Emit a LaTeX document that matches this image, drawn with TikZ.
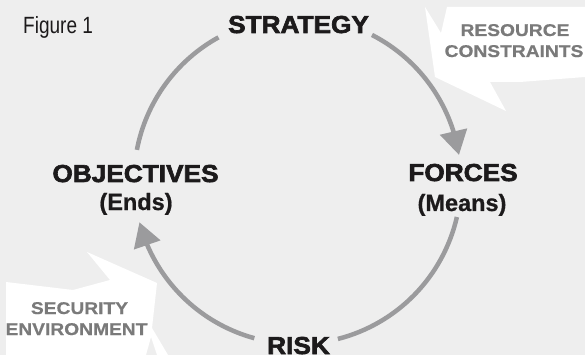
\documentclass[tikz,border=0pt]{standalone}
\usepackage{fontspec}
\setmainfont{Liberation Sans}
\newfontfamily\heavyfont{Liberation Sans Bold}[FakeBold=2.6,FakeStretch=1.07]
\newfontfamily\boldsans{Liberation Sans Bold}[FakeBold=0.8]
\newfontfamily\narrowsans{Liberation Sans}[FakeStretch=0.81]
\newfontfamily\widebold{Liberation Sans Bold}[FakeBold=0.6,FakeStretch=1.13]
\usetikzlibrary{arrows.meta,bending,calc}

\definecolor{bg}{HTML}{EEEEEE}
\definecolor{ring}{HTML}{9B9B9D}
\definecolor{ink}{HTML}{1C1A1B}
\definecolor{notegray}{HTML}{7A7A7A}

\begin{document}
\begin{tikzpicture}[x=1pt,y=-1pt,
  title/.style={font=\heavyfont\fontsize{24.5}{28}\selectfont, text=ink, inner sep=0pt, anchor=base},
  subtitle/.style={font=\boldsans\fontsize{23.5}{28}\selectfont, text=ink, inner sep=0pt, anchor=base},
  figlabel/.style={font=\narrowsans\fontsize{23.5}{28}\selectfont, text=ink, inner sep=0pt, anchor=base west},
  notetext/.style={font=\widebold\fontsize{17}{20}\selectfont, text=notegray, inner sep=0pt, anchor=base},
  callout/.style={fill=white, draw=none},
  ringline/.style={draw=ring, line width=4.5pt},
  ringarrow/.style={ringline, -{Triangle[length=24pt,width=27pt]}}
]
% background
\fill[bg] (0,0) rectangle (585,355);
\useasboundingbox (0,0) rectangle (585,355);

% callout shapes
\fill[callout] (425,7) -- (441,33) -- (447,7) -- (585,7) -- (585,77)
  -- (520,82) -- (490,82) -- (506,111) -- (435,77) -- cycle;
\fill[callout] (6,282) -- (73,290) -- (110,280) -- (87,252) -- (157,283)
  -- (152,328) -- (168,355) -- (157,355) -- (151,337) -- (146,355)
  -- (6,355) -- cycle;

% callout texts
\node[notetext] (resource) at (515,36) {RESOURCE};
\node[notetext] (constraints) at (514,57) {CONSTRAINTS};
\node[notetext] (security) at (79.5,314) {SECURITY};
\node[notetext] (environment) at (76.5,335) {ENVIRONMENT};

% caption
\node[figlabel] (fig) at (23,34) {Figure 1};

% the four stations of the cycle
\node[title] (strategy) at (298.5,33) {STRATEGY};
\node[title] (objectives) at (135.5,182) {OBJECTIVES};
\node[subtitle] (ends) at (136,210) {(Ends)};
\node[title] (forces) at (463,181) {FORCES};
\node[subtitle] (means) at (462,211) {(Means)};
\node[title] (risk) at (298.5,354) {RISK};

% ring of arcs around a common centre
\coordinate (c) at (297.5,180.5);
\coordinate (a1) at ($(c)+(190.8:163.5)$);
\coordinate (a2) at ($(c)+(-62.9:163.5)$);
\coordinate (a3) at ($(c)+(12.9:163.5)$);
\coordinate (a4) at ($(c)+(105.3:163.5)$);
\draw[ringline] (a1) arc[start angle=190.8, end angle=241.1, radius=163.5];
\draw[ringarrow] (a2) arc[start angle=-62.9, end angle=-9.0, radius=163.5];
\draw[ringline] (a3) arc[start angle=12.9, end angle=75.7, radius=163.5];
\draw[ringarrow] (a4) arc[start angle=105.3, end angle=165.2, radius=163.5];
\end{tikzpicture}
\end{document}
